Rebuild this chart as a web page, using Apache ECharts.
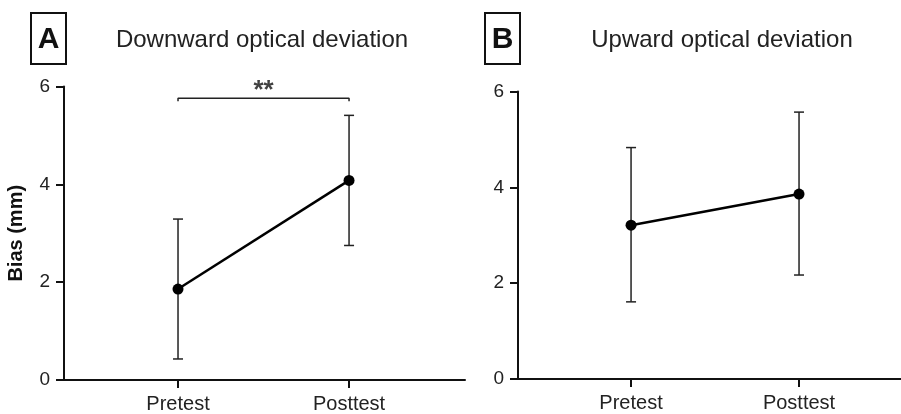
<!DOCTYPE html>
<html>
<head>
<meta charset="utf-8">
<style>
  html, body { margin: 0; padding: 0; background: #fff; }
  #chart { width: 901px; height: 414px; }
</style>
<script src="https://cdn.jsdelivr.net/npm/echarts@6/dist/echarts.min.js"></script>
</head>
<body>
<div id="chart"></div>
<script>
// ---- data ----
const categories = ['Pretest', 'Posttest'];
const panelLetters = ['A', 'B'];
const panelTitles = ['Downward optical deviation', 'Upward optical deviation'];
const yTicks = [0, 2, 4, 6];
// Panel A (downward)
const downMean = [1.86, 4.08];
const downLow  = [0.43, 2.75];
const downHigh = [3.29, 5.41];
// Panel B (upward)
const upMean = [3.21, 3.86];
const upLow  = [1.61, 2.17];
const upHigh = [4.83, 5.57];
// significance bracket (panel A)
const sigLevel = 5.76;
const sigText = '**';

const FONT = 'Liberation Sans, Arial, sans-serif';
const INK = '#111';

const chart = echarts.init(document.getElementById('chart'), null, { renderer: 'canvas' });

const catPos = categories.map((c, i) => i + 1);

function xAxis(gridIndex, min, max) {
  return {
    type: 'value', gridIndex, min, max,
    splitLine: { show: false },
    axisLine: { show: true, lineStyle: { color: INK, width: 2 } },
    axisTick: { show: true, customValues: catPos, length: 8, lineStyle: { color: INK, width: 2 } },
    axisLabel: {
      customValues: catPos, margin: 14,
      formatter: v => categories[Math.round(v) - 1] || '',
      fontFamily: FONT, fontSize: 20, color: '#222'
    }
  };
}
function yAxis(gridIndex, name) {
  return {
    type: 'value', gridIndex, min: 0, max: 6, interval: 2,
    name, nameLocation: 'middle', nameGap: 38,
    nameTextStyle: { fontFamily: FONT, fontSize: 20, fontWeight: 'bold', color: '#111' },
    splitLine: { show: false },
    axisLine: { show: true, onZero: false, lineStyle: { color: INK, width: 2 } },
    axisTick: { show: true, length: 8, lineStyle: { color: INK, width: 2 } },
    axisLabel: { margin: 14, fontFamily: FONT, fontSize: 19, color: '#222',
      formatter: v => yTicks.includes(v) ? String(v) : '' }
  };
}

function errorSeries(idx, low, high) {
  return {
    type: 'custom', xAxisIndex: idx, yAxisIndex: idx, z: 2,
    data: catPos.map((x, i) => [x, low[i], high[i]]),
    renderItem: (params, api) => {
      const x = api.value(0);
      const lo = api.coord([x, api.value(1)]);
      const hi = api.coord([x, api.value(2)]);
      const w = 5;
      const style = { stroke: '#222', lineWidth: 1.5 };
      return {
        type: 'group',
        children: [
          { type: 'line', shape: { x1: lo[0], y1: lo[1], x2: hi[0], y2: hi[1] }, style },
          { type: 'line', shape: { x1: lo[0] - w, y1: lo[1], x2: lo[0] + w, y2: lo[1] }, style },
          { type: 'line', shape: { x1: hi[0] - w, y1: hi[1], x2: hi[0] + w, y2: hi[1] }, style }
        ]
      };
    }
  };
}
function meanSeries(idx, mean) {
  return {
    type: 'line', xAxisIndex: idx, yAxisIndex: idx, z: 3,
    data: catPos.map((x, i) => [x, mean[i]]),
    symbol: 'circle', symbolSize: 11,
    itemStyle: { color: '#000' },
    lineStyle: { color: '#000', width: 2.5 },
    animation: false
  };
}

const option = {
  backgroundColor: '#fff',
  animation: false,
  grid: [
    { left: 64, top: 86.5, width: 401, height: 293.5 },
    { left: 518, top: 91.5, width: 383, height: 287.5 }
  ],
  xAxis: [ xAxis(0, 1 / 3, 2.678), xAxis(1, 0.327, 2.607) ],
  yAxis: [ yAxis(0, 'Bias (mm)'), yAxis(1, '') ],
  graphic: [
    { type: 'rect', shape: { x: 31, y: 13, width: 35, height: 51 },
      style: { fill: 'none', stroke: '#111', lineWidth: 2 } },
    { type: 'text', x: 48.5, y: 40, style: { text: panelLetters[0], fontFamily: FONT, fontSize: 30, fontWeight: 'bold', fill: '#111', align: 'center', verticalAlign: 'middle' } },
    { type: 'rect', shape: { x: 485, y: 13, width: 35, height: 51 },
      style: { fill: 'none', stroke: '#111', lineWidth: 2 } },
    { type: 'text', x: 502.5, y: 40, style: { text: panelLetters[1], fontFamily: FONT, fontSize: 30, fontWeight: 'bold', fill: '#111', align: 'center', verticalAlign: 'middle' } },
    { type: 'text', x: 262, y: 40, style: { text: panelTitles[0], fontFamily: FONT, fontSize: 24, fill: '#222', align: 'center', verticalAlign: 'middle' } },
    { type: 'text', x: 722, y: 40, style: { text: panelTitles[1], fontFamily: FONT, fontSize: 24, fill: '#222', align: 'center', verticalAlign: 'middle' } }
  ],
  series: [
    errorSeries(0, downLow, downHigh),
    meanSeries(0, downMean),
    errorSeries(1, upLow, upHigh),
    meanSeries(1, upMean),
    {
      type: 'line', xAxisIndex: 0, yAxisIndex: 0, z: 2,
      data: [[catPos[0], sigLevel - 0.06], [catPos[0], sigLevel], [catPos[1], sigLevel], [catPos[1], sigLevel - 0.06]],
      symbol: 'none', lineStyle: { color: '#222', width: 1.5 }
    },
    {
      type: 'scatter', xAxisIndex: 0, yAxisIndex: 0,
      data: [[(catPos[0] + catPos[1]) / 2, sigLevel]],
      symbolSize: 0,
      label: { show: true, position: 'top', distance: -6, formatter: sigText,
        fontFamily: FONT, fontSize: 26, fontWeight: 'bold', color: '#111' }
    }
  ]
};
chart.setOption(option);
</script>
</body>
</html>
